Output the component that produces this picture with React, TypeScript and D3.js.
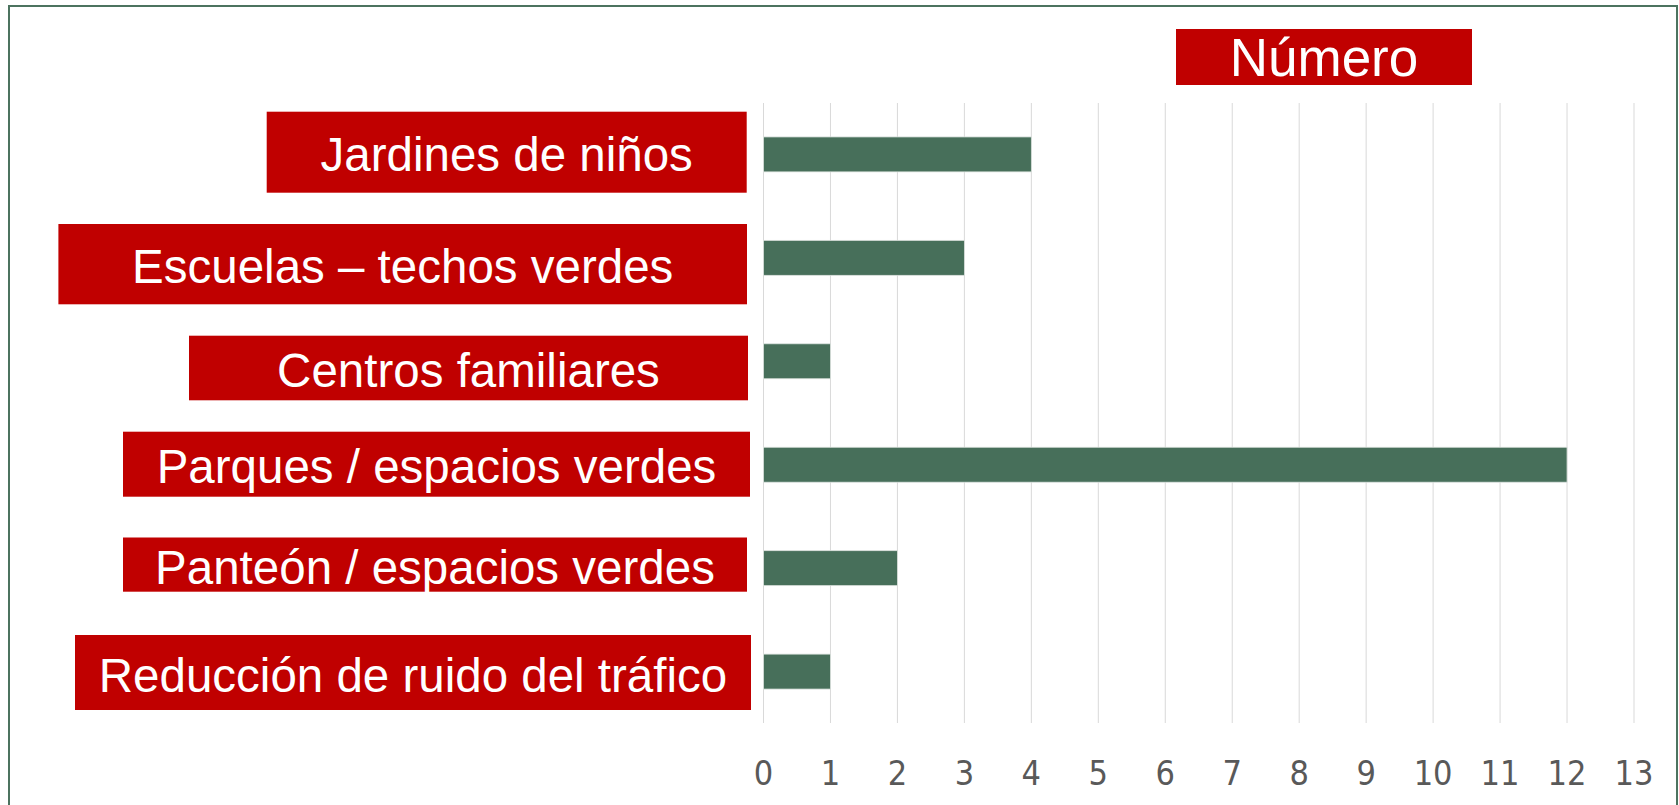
import React from "react";
import * as d3 from "d3";

// ---- data ----
const categories: string[] = [
  "Jardines de niños",
  "Escuelas – techos verdes",
  "Centros familiares",
  "Parques / espacios verdes",
  "Panteón / espacios verdes",
  "Reducción de ruido del tráfico",
];
const values: number[] = [4, 3, 1, 12, 2, 1];
const tickValues: number[] = [0, 1, 2, 3, 4, 5, 6, 7, 8, 9, 10, 11, 12, 13];
const legendTitle = "Número";

// ---- layout (label boxes as drawn in the original, left/right/top/bottom) ----
const labelBoxes: [number, number, number, number][] = [
  [266.7, 746.7, 111.7, 192.7],
  [58.4, 747, 224, 304.3],
  [189, 748, 335.7, 400.3],
  [123, 750, 431.7, 496.7],
  [123, 747, 537.5, 591.7],
  [75, 751, 635, 710],
];

const W = 1679;
const H = 805;
const RED = "#c00000";
const BAR = "#476f5a";
const GRID = "#d9d9d9";
const FRAME = "#4c735f";

export default function App() {
  if (typeof document !== "undefined") {
    document.body.style.margin = "0";
    document.body.style.overflow = "hidden";
  }
  const x = d3.scaleLinear().domain([0, 13]).range([763.5, 1634]);
  const y = d3
    .scaleBand<string>()
    .domain(categories)
    .range([103, 723])
    .paddingInner(0.662)
    .paddingOuter(0.328);

  const gridTop = 103;
  const gridBottom = 723;

  return (
    <svg
      width={W}
      height={H}
      style={{ position: "absolute", left: 0, top: 0, display: "block" }}
      xmlns="http://www.w3.org/2000/svg"
    >
      <rect x={0} y={0} width={W} height={H} fill="#ffffff" />
      {/* frame */}
      <rect x={9} y={6} width={1668} height={850} fill="none" stroke={FRAME} strokeWidth={2} />

      {/* gridlines */}
      {tickValues.map((t) => (
        <line
          key={"g" + t}
          x1={x(t)}
          x2={x(t)}
          y1={gridTop}
          y2={gridBottom}
          stroke={GRID}
          strokeWidth={1}
        />
      ))}

      {/* bars */}
      {categories.map((c, i) => (
        <rect
          key={"b" + c}
          x={x(0)}
          y={y(c)!}
          width={x(values[i]) - x(0)}
          height={y.bandwidth()}
          fill={BAR}
          stroke="#dde3df"
          strokeWidth={0.8}
        />
      ))}

      {/* tick labels */}
      {tickValues.map((t) => (
        <text
          key={"t" + t}
          x={x(t)}
          y={784.5}
          textAnchor="middle"
          fill="#595959"
          style={{
            fontFamily: "'DejaVu Sans Condensed', 'DejaVu Sans', sans-serif",
            fontStretch: "condensed",
            fontSize: 34,
          }}
        >
          {t}
        </text>
      ))}

      {/* category label boxes */}
      {categories.map((c, i) => {
        const [x0, x1, y0, y1] = labelBoxes[i];
        const cy = (y0 + y1) / 2;
        return (
          <g key={"l" + c}>
            <rect x={x0} y={y0} width={x1 - x0} height={y1 - y0} fill={RED} />
            <text
              x={(x0 + x1) / 2}
              y={cy + 19}
              textAnchor="middle"
              fill="#ffffff"
              style={{ fontFamily: "'Liberation Sans', Arial, sans-serif", fontSize: 47.5 }}
            >
              {c}
            </text>
          </g>
        );
      })}

      {/* legend title box */}
      <rect x={1176} y={29} width={296} height={56} fill={RED} />
      <text
        x={1324}
        y={76}
        textAnchor="middle"
        fill="#ffffff"
        style={{ fontFamily: "'Liberation Sans', Arial, sans-serif", fontSize: 53 }}
      >
        {legendTitle}
      </text>
    </svg>
  );
}
